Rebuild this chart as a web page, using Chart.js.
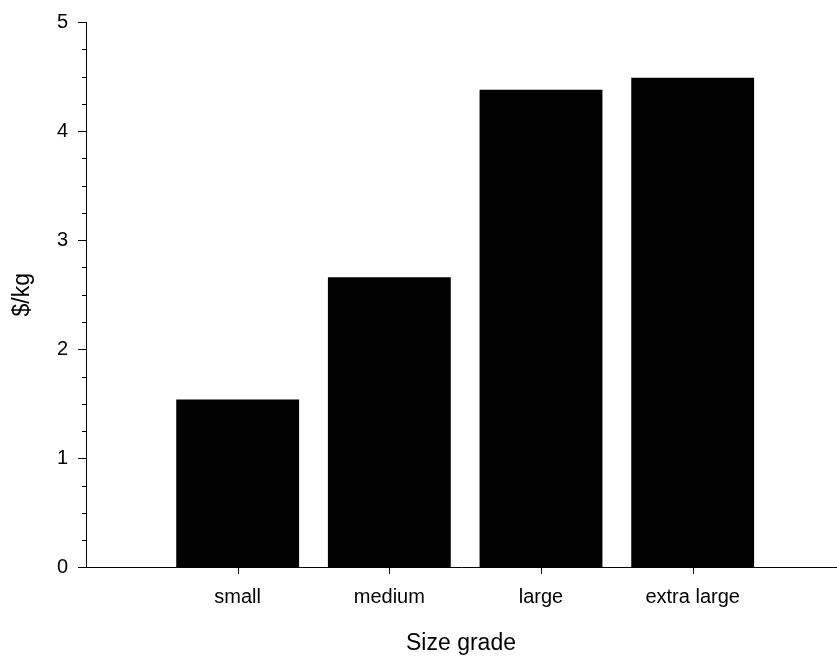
<!DOCTYPE html>
<html>
<head>
<meta charset="utf-8">
<title>Price by size grade</title>
<script src="https://cdn.jsdelivr.net/npm/chart.js@4.4.1/dist/chart.umd.min.js"></script>
<style>
  html, body { margin: 0; padding: 0; background: #fff; }
  #wrap { width: 837px; height: 657px; }
</style>
</head>
<body>
<div id="wrap"><canvas id="priceChart" width="837" height="657"></canvas></div>
<script>
const grades = ["small", "medium", "large", "extra large"];
const gradePos = [1, 2, 3, 4];
const pricePerKg = [1.54, 2.66, 4.38, 4.49];
const yTicks = [0, 1, 2, 3, 4, 5];

Chart.defaults.font.family = "'Liberation Sans', Arial, sans-serif";
Chart.defaults.color = "#000";

// minor y ticks every 0.25 and the short x ticks under each bar
const axisTicks = {
  id: "axisTicks",
  afterDraw(chart) {
    const xs = chart.scales.x;
    const ys = chart.scales.y;
    const ctx = chart.ctx;
    const left = chart.chartArea.left;
    const bottom = Math.floor(chart.chartArea.bottom);
    ctx.save();
    ctx.strokeStyle = "#000";
    ctx.lineWidth = 1;
    ctx.beginPath();
    for (let v = 0; v <= 5; v += 0.25) {
      if (Number.isInteger(v)) continue;
      const py = Math.round(ys.getPixelForValue(v)) + 0.5;
      ctx.moveTo(left - 4, py);
      ctx.lineTo(left, py);
    }
    for (const v of gradePos) {
      const px = Math.round(xs.getPixelForValue(v)) + 0.5;
      ctx.moveTo(px, bottom);
      ctx.lineTo(px, bottom + 7);
    }
    ctx.stroke();
    ctx.restore();
  },
};

new Chart(document.getElementById("priceChart"), {
  type: "bar",
  data: {
    datasets: [{
      data: gradePos.map((x, i) => ({ x, y: pricePerKg[i] })),
      backgroundColor: "#000",
      borderWidth: 0,
      barPercentage: 0.81,
      categoryPercentage: 1,
    }],
  },
  options: {
    responsive: false,
    animation: false,
    layout: { padding: { top: 22, right: 1, left: 0, bottom: 0 } },
    plugins: {
      legend: { display: false },
      tooltip: { enabled: false },
    },
    scales: {
      x: {
        type: "linear",
        min: 0,
        max: 4.945,
        offset: false,
        afterFit(scale) { scale.height = 89.5; },
        afterBuildTicks(scale) { scale.ticks = gradePos.map((v) => ({ value: v })); },
        border: { display: true, color: "#000", width: 1 },
        grid: { offset: false, drawOnChartArea: false, drawTicks: false },
        ticks: {
          padding: 18,
          maxRotation: 0,
          autoSkip: false,
          font: { size: 20 },
          callback: (v) => grades[gradePos.indexOf(v)] || "",
        },
        title: { display: true, text: "Size grade", font: { size: 23 }, padding: { top: 0, bottom: 0 } },
      },
      y: {
        min: 0,
        max: 5,
        afterFit(scale) { scale.width = 86; },
        afterBuildTicks(scale) { scale.ticks = yTicks.map((v) => ({ value: v })); },
        border: { display: true, color: "#000", width: 1 },
        grid: { drawOnChartArea: false, drawTicks: true, tickLength: 8, tickColor: "#000" },
        ticks: { padding: 10, font: { size: 20 } },
        title: { display: true, text: "$/kg", font: { size: 23 }, padding: { top: 9, bottom: 0 } },
      },
    },
  },
  plugins: [axisTicks],
});
</script>
</body>
</html>
